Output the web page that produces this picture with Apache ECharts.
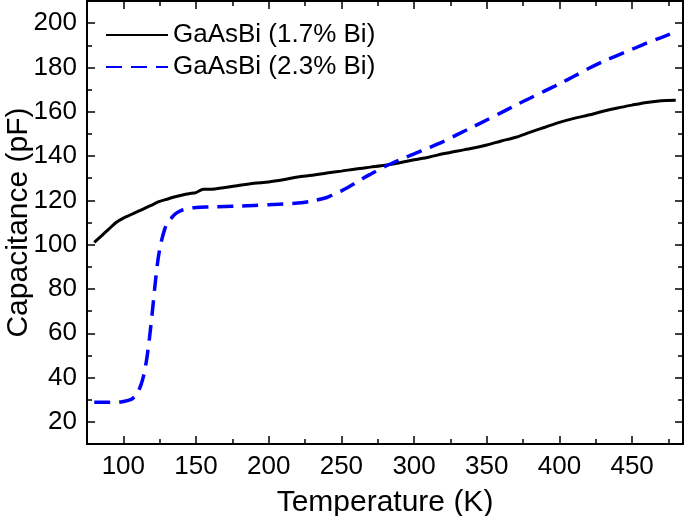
<!DOCTYPE html>
<html>
<head>
<meta charset="utf-8">
<script src="https://cdn.jsdelivr.net/npm/echarts@6/dist/echarts.min.js"></script>
<style>
html,body{margin:0;padding:0;background:#fff;}
#chart{width:685px;height:516px;}
</style>
</head>
<body>
<div id="chart"></div>
<script>
// Series names
var seriesNames = ['GaAsBi (1.7% Bi)', 'GaAsBi (2.3% Bi)'];

// GaAsBi (1.7% Bi): [temperature K, capacitance pF]
var bi17 = [
  [80,101],[85,104],[90,107],[95,110],[100,112],[105,113.5],[110,115],[115,116.5],
  [120,118],[125,119.5],[130,120.5],[135,121.5],[140,122.3],[145,123],[150,123.5],
  [155,125],[160,125],[170,125.8],[180,126.8],[190,127.7],[200,128.3],[210,129.3],
  [220,130.5],[230,131.3],[240,132.3],[250,133.2],[260,134.2],[270,135],[280,135.8],
  [290,137],[300,138.3],[310,139.5],[320,141],[330,142.3],[340,143.5],[350,145],
  [360,146.8],[370,148.5],[380,150.8],[390,153],[400,155.2],[410,157],[420,158.5],
  [430,160.2],[440,161.7],[450,163],[460,164.2],[470,165],[480,165.2]
];

// GaAsBi (2.3% Bi): [temperature K, capacitance pF]
var bi23 = [
  [80,28.8],[85,28.8],[90,28.8],[95,28.7],[100,29.2],[105,30],[108,31.5],[110,33.5],
  [112,36.5],[114,41],[116,48],[118,58],[120,70],[122,83],[124,94],[126,101],[128,106],
  [130,109.5],[133,112],[136,114],[140,115.5],[145,116.3],[150,116.8],[160,117],
  [170,117.2],[180,117.4],[190,117.7],[200,118],[210,118.3],[220,118.8],[230,119.7],
  [240,121.3],[245,122.8],[250,124.3],[255,126],[260,128],[265,130],[270,131.8],
  [280,135.3],[290,138.3],[300,141],[310,143.7],[320,146.5],[330,149.8],[340,153],
  [350,156.3],[360,159.6],[370,163],[380,166.2],[390,169.4],[400,172.6],[410,176],
  [420,179.5],[430,182.7],[440,185.5],[450,188.2],[460,191],[470,193.5],[476,195]
];

// Axis ticks
var xMajor = [100,150,200,250,300,350,400,450];
var xMinor = [125,175,225,275,325,375,425,475];
var yMajor = [20,40,60,80,100,120,140,160,180,200];
var yMinor = [30,50,70,90,110,130,150,170,190];

var FONT = '"Liberation Sans", Arial, Helvetica, sans-serif';
var chart = echarts.init(document.getElementById('chart'), null, {renderer:'canvas'});

function xAx(pos, ticks, len, main) {
  return {
    type:'value', position:pos, min:75, max:485,
    axisLine:{show:main, lineStyle:{color:'#000', width:2}},
    axisTick:{show:true, inside:true, length:len, customValues:ticks, lineStyle:{color:'#000', width:1.5}},
    axisLabel:{show:main && pos==='bottom', customValues:ticks, margin:10, color:'#000', fontSize:26, fontFamily:FONT},
    splitLine:{show:false},
    name: (main && pos==='bottom') ? 'Temperature (K)' : '',
    nameLocation:'middle', nameGap:44,
    nameTextStyle:{color:'#000', fontSize:30, fontFamily:FONT}
  };
}
function yAx(pos, ticks, len, main) {
  return {
    type:'value', position:pos, min:10, max:210,
    axisLine:{show:main, lineStyle:{color:'#000', width:2}},
    axisTick:{show:true, inside:true, length:len, customValues:ticks, lineStyle:{color:'#000', width:1.5}},
    axisLabel:{show:main && pos==='left', customValues:ticks, margin:10, color:'#000', fontSize:26, fontFamily:FONT},
    splitLine:{show:false},
    name: (main && pos==='left') ? 'Capacitance (pF)' : '',
    nameLocation:'middle', nameGap:53, nameMoveOverlap:false,
    nameTextStyle:{color:'#000', fontSize:30, fontFamily:FONT}
  };
}

chart.setOption({
  animation:false,
  backgroundColor:'#fff',
  grid:{left:87, right:2, top:1, bottom:72, containLabel:false, outerBoundsMode:'none'},
  legend:{
    left:105, top:22, orient:'vertical', padding:0, itemWidth:62, itemHeight:14, itemGap:6,
    itemStyle:{opacity:0},
    textStyle:{color:'#000', fontSize:26, fontFamily:FONT},
    data:seriesNames
  },
  xAxis:[
    xAx('bottom', xMajor, 8, true),
    xAx('bottom', xMinor, 5, false),
    xAx('top', xMajor, 8, true),
    xAx('top', xMinor, 5, false)
  ],
  yAxis:[
    yAx('left', yMajor, 8, true),
    yAx('left', yMinor, 5, false),
    yAx('right', yMajor, 8, true),
    yAx('right', yMinor, 5, false)
  ],
  series:[
    {
      name:seriesNames[0], type:'line', xAxisIndex:0, yAxisIndex:0,
      data:bi17, symbol:'none', smooth:0.3,
      lineStyle:{color:'#000', width:3}, itemStyle:{color:'#000'}
    },
    {
      name:seriesNames[1], type:'line', xAxisIndex:0, yAxisIndex:0,
      data:bi23, symbol:'none', smooth:0.3,
      lineStyle:{color:'#0000ff', width:3.5, type:[16,9]}, itemStyle:{color:'#0000ff'}
    }
  ]
});
</script>
</body>
</html>
